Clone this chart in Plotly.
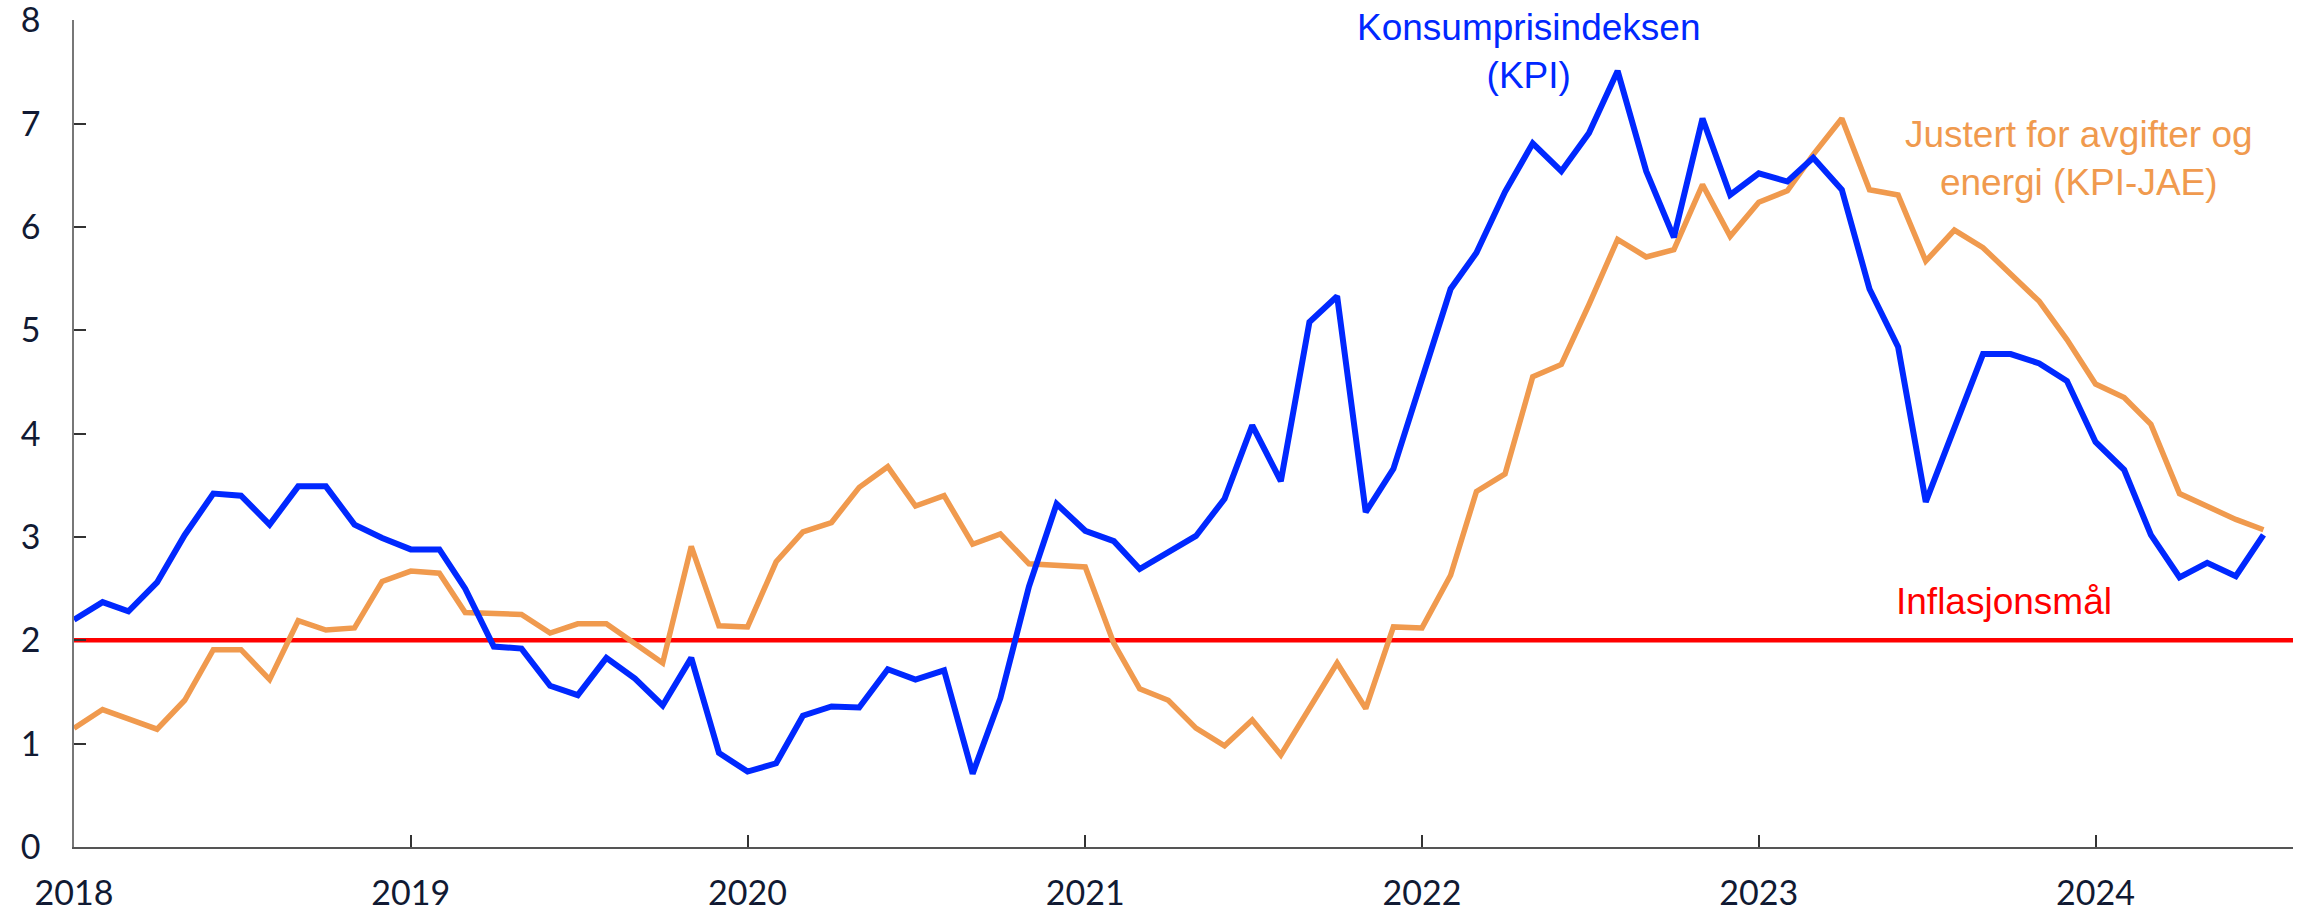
import pandas as pd
import plotly.graph_objects as go

# Monthly data, January 2018 - July 2024 (12-month change, per cent)
months = pd.date_range("2018-01-01", periods=79, freq="MS")

kpi = [
    2.20, 2.37, 2.28, 2.56, 3.02, 3.42, 3.40, 3.12, 3.49, 3.49, 3.12, 2.99,
    2.88, 2.88, 2.50, 1.94, 1.92, 1.56, 1.47, 1.83, 1.63, 1.37, 1.83, 0.91,
    0.73, 0.81, 1.27, 1.36, 1.35, 1.72, 1.62, 1.71, 0.71, 1.44, 2.52, 3.32,
    3.06, 2.96, 2.69, 2.85, 3.01, 3.37, 4.08, 3.54, 5.08, 5.33, 3.24, 3.66,
    4.53, 5.40, 5.75, 6.34, 6.81, 6.54, 6.91, 7.51, 6.54, 5.90, 7.05, 6.31,
    6.52, 6.44, 6.67, 6.36, 5.40, 4.84, 3.34, 4.06, 4.77, 4.77, 4.68, 4.51,
    3.92, 3.65, 3.02, 2.61, 2.75, 2.62, 3.02,
]

kpi_jae = [
    1.15, 1.33, 1.24, 1.14, 1.42, 1.91, 1.91, 1.62, 2.19, 2.10, 2.12, 2.57,
    2.67, 2.65, 2.27, 2.26, 2.25, 2.07, 2.16, 2.16, 1.97, 1.78, 2.91, 2.14,
    2.13, 2.76, 3.05, 3.14, 3.48, 3.68, 3.30, 3.40, 2.93, 3.03, 2.74, 2.72,
    2.71, 1.97, 1.53, 1.42, 1.15, 0.98, 1.23, 0.89, 1.33, 1.78, 1.34, 2.13,
    2.12, 2.63, 3.44, 3.61, 4.55, 4.67, 5.25, 5.88, 5.71, 5.78, 6.41, 5.91,
    6.24, 6.35, 6.70, 7.05, 6.36, 6.31, 5.67, 5.97, 5.80, 5.54, 5.28, 4.91,
    4.48, 4.35, 4.09, 3.42, 3.30, 3.17, 3.07,
]

inflation_target = 2

x_ticks = ["2018-01-01", "2019-01-01", "2020-01-01", "2021-01-01",
           "2022-01-01", "2023-01-01", "2024-01-01"]
x_ticklabels = ["2018", "2019", "2020", "2021", "2022", "2023", "2024"]
y_ticks = [0, 1, 2, 3, 4, 5, 6, 7, 8]

BLUE = "#0028FF"
ORANGE = "#F09A4E"
RED = "#FF0000"
TEXT = "#111a33"
LABEL_FONT = "Liberation Sans, Arial, sans-serif"
TICK_FONT = dict(family="Lato, sans-serif", size=34, color=TEXT)

fig = go.Figure()

fig.add_hline(y=inflation_target, line=dict(color=RED, width=4.5), layer="below")

fig.add_trace(go.Scatter(
    x=months, y=kpi_jae, mode="lines", name="KPI-JAE",
    line=dict(color=ORANGE, width=5.5), showlegend=False,
))
fig.add_trace(go.Scatter(
    x=months, y=kpi, mode="lines", name="KPI",
    line=dict(color=BLUE, width=6), showlegend=False,
))

fig.add_annotation(
    text="Konsumprisindeksen<br>(KPI)", xref="paper", yref="paper",
    x=0.6553, y=0.962, xanchor="center", yanchor="middle", showarrow=False,
    align="center", font=dict(family=LABEL_FONT, size=37, color=BLUE),
)
fig.add_annotation(
    text="Justert for avgifter og<br>energi (KPI-JAE)", xref="paper", yref="paper",
    x=0.9036, y=6.66 / 8, xanchor="center", yanchor="middle", showarrow=False,
    align="center", font=dict(family=LABEL_FONT, size=37, color=ORANGE),
)
fig.add_annotation(
    text="Inflasjonsmål", xref="paper", yref="paper",
    x=0.8698, y=2.377 / 8, xanchor="center", yanchor="middle", showarrow=False,
    font=dict(family=LABEL_FONT, size=37, color=RED),
)

fig.update_layout(
    width=2304, height=916,
    margin=dict(l=74, r=11, t=20, b=69, autoexpand=False),
    paper_bgcolor="white", plot_bgcolor="white",
    font=dict(family="Lato, sans-serif", size=34, color=TEXT),
    showlegend=False,
)
fig.update_xaxes(
    type="date", range=["2018-01-01", "2024-08-02"],
    tickvals=x_ticks, ticktext=x_ticklabels,
    showgrid=False, zeroline=False, automargin=False,
    showline=True, linecolor="#555555", linewidth=1.5,
    ticks="inside", ticklen=12, tickwidth=1.5, tickcolor="#333333",
    ticklabelstandoff=15, ticklabeloverflow="allow", tickfont=TICK_FONT,
)
fig.update_yaxes(
    range=[0, 8.003], tickvals=y_ticks,
    showgrid=False, zeroline=False, automargin=False,
    showline=True, linecolor="#777777", linewidth=1.5,
    ticks="inside", ticklen=12, tickwidth=1.5, tickcolor="#333333",
    ticklabelstandoff=25, ticklabeloverflow="allow", tickfont=TICK_FONT,
)

fig.write_html(
    "out.html",
    config={"displayModeBar": False},
    post_script="document.body.style.margin='0';document.body.style.overflow='hidden';",
)
